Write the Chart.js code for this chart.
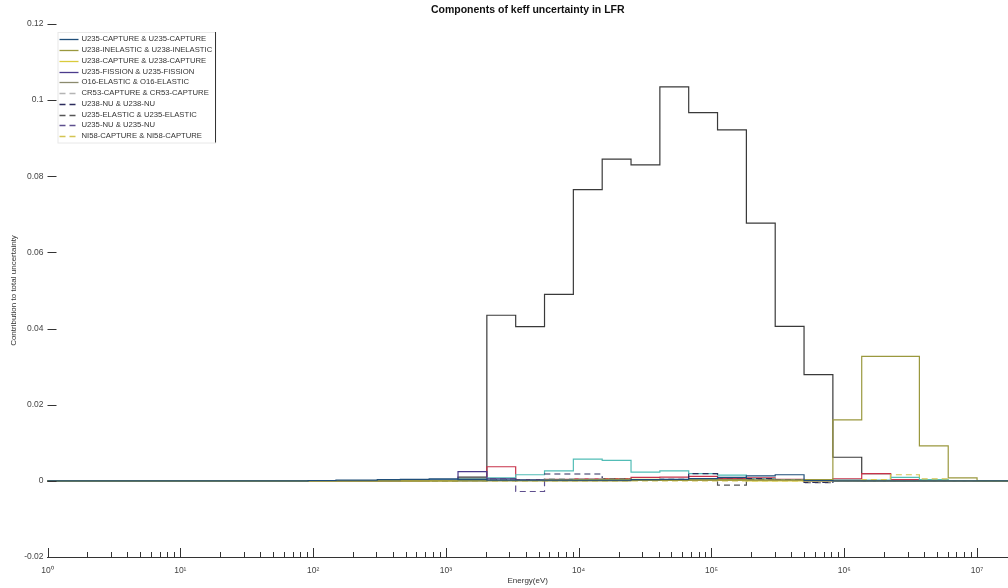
<!DOCTYPE html>
<html>
<head>
<meta charset="utf-8">
<script src="https://cdn.jsdelivr.net/npm/chart.js@4.4.1/dist/chart.umd.min.js"></script>
<style>
  html, body { margin: 0; padding: 0; background: #fff; }
  #wrap { width: 1008px; height: 588px; }
</style>
</head>
<body>
<div id="wrap"><canvas id="keff"></canvas></div>
<script>
// 33-group energy boundaries (eV), ascending
const energyEdges = [1e-5, 0.1, 0.54, 4.0, 8.3153, 13.710, 22.603, 40.169, 67.904, 91.661, 148.62,
  304.33, 454.0, 748.52, 1234.1, 2034.7, 3354.6, 5530.8, 9118.8, 15034, 24788, 40868,
  67379, 111090, 183160, 301970, 497870, 820850, 1353400, 2231300, 3678800, 6065300, 1.0e7, 1.964e7];

// contribution per group (one value per group, low -> high energy)
const mainVals = [0, 0, 0, 0, 0, 0, 0, 0, 0, 0, 0,
  0, 0, 0.0002, 0.0010, 0.0435, 0.0405, 0.0490, 0.0765, 0.0845, 0.0830, 0.1035,
  0.0967, 0.0922, 0.0677, 0.0406, 0.0279, 0.0062, 0.0019, 0.0002, 0, 0, 0];
const inelVals = [0, 0, 0, 0, 0, 0, 0, 0, 0, 0, 0,
  0, 0, 0, 0, 0, 0, 0, 0, 0, 0.0001, 0.0001,
  0.0002, 0.0002, 0.0002, 0.0002, 0.0003, 0.0160, 0.0327, 0.0327, 0.0092, 0.0008, 0];
const redVals = [0, 0, 0, 0, 0, 0, 0, 0, 0, 0, 0,
  0, 0, 0.0001, 0.0006, 0.0037, 0.0003, 0.0004, 0.0005, 0.0006, 0.0009, 0.0010,
  0.0012, 0.0006, 0.0008, 0.0004, 0.0002, 0.0005, 0.0019, 0.0003, 0.0001, 0, 0];
const cyanVals = [0, 0, 0, 0, 0, 0, 0, 0, 0, 0, 0.0001,
  0.0001, 0.0002, 0.0003, 0.0005, 0.0008, 0.0016, 0.0026, 0.0057, 0.0054, 0.0023, 0.0026,
  0.0019, 0.0015, 0.0005, 0.0003, 0.0002, 0.0002, 0.0002, 0.0009, 0.0003, 0.0001, 0];
const u235CapVals = [0, 0, 0, 0, 0, 0, 0, 0, 0, 0.0001, 0.0002,
  0.0003, 0.0004, 0.0005, 0.0003, 0.0002, 0.0002, 0.0002, 0.0002, 0.0002, 0.0003, 0.0004,
  0.0006, 0.0009, 0.0013, 0.0016, 0.0001, 0, 0, 0, 0, 0, 0];
const u238CapVals = [0, 0, 0, 0, 0, 0, 0, 0, 0, 0, 0,
  0, 0, 0, 0.0001, 0.0001, 0.0001, 0.0002, 0.0003, 0.0004, 0.0004, 0.0003,
  0.0002, 0.0001, 0, 0, 0, 0, 0, 0, 0, 0, 0];
const u235FisVals = [0, 0, 0, 0, 0, 0, 0, 0, 0, 0, 0,
  0, 0.0001, 0.0002, 0.0024, 0.0005, 0.0002, 0.0001, 0.0001, 0.0001, 0.0001, 0.0001,
  0.0001, 0.0001, 0.0001, 0.0001, 0, 0, 0, 0, 0, 0, 0];
const o16Vals = [0, 0, 0, 0, 0, 0, 0, 0, 0, 0, 0,
  0, 0, 0, 0, 0.0001, 0.0001, 0.0002, 0.0002, 0.0002, 0.0002, 0.0003,
  0.0003, 0.0003, 0.0002, 0.0002, 0.0001, 0.0001, 0.0001, 0, 0, 0, 0];
const cr53Vals = [0, 0, 0, 0, 0, 0, 0, 0, 0, 0, 0,
  0, 0, 0, 0.0002, 0.0004, 0.0003, 0.0006, 0.0005, 0.0004, 0.0003, 0.0003,
  0.0002, 0.0002, 0.0001, 0.0001, 0, 0, 0, 0, 0, 0, 0];
const u238NuVals = [0, 0, 0, 0, 0, 0, 0, 0, 0, 0, 0,
  0, 0, 0, 0.0001, 0.0003, 0.0002, 0.0018, 0.0018, 0.0005, 0.0003, 0.0004,
  0.0019, 0.0004, 0.0006, 0.0003, -0.0004, 0.0001, 0, 0, 0, 0, 0];
const u235ElVals = [0, 0, 0, 0, 0, 0, 0, 0, 0, 0, 0,
  0, 0, 0, 0.0001, 0.0005, 0.0002, 0.0002, 0.0002, 0.0002, 0.0002, 0.0002,
  0.0002, -0.0011, 0.0004, 0.0002, -0.0005, 0, 0, 0, 0, 0, 0];
const u235NuVals = [0, 0, 0, 0, 0, 0, 0, 0, 0, 0, 0,
  0, 0, 0, 0.0001, 0.0002, -0.0028, 0.0003, 0.0003, 0.0002, 0.0002, 0.0002,
  0.0002, 0.0002, 0.0002, 0.0001, 0, 0, 0, 0, 0, 0, 0];
const ni58Vals = [0, 0, 0, 0, 0, 0, 0, 0, 0, 0, 0,
  0, 0, 0, 0, 0, 0, 0, 0, 0, 0, 0,
  0, 0, 0, 0, 0, 0.0001, 0.0003, 0.0016, 0.0005, 0.0001, 0];

const yTicks = [-0.02, 0, 0.02, 0.04, 0.06, 0.08, 0.1, 0.12];
const xDecades = [1, 10, 100, 1e3, 1e4, 1e5, 1e6, 1e7];
const xTickLabels = ['10\u2070', '10\u00b9', '10\u00b2', '10\u00b3', '10\u2074', '10\u2075', '10\u2076', '10\u2077'];

function steps(vals) {
  const pts = vals.map((v, i) => ({ x: energyEdges[i], y: v }));
  pts.push({ x: energyEdges[energyEdges.length - 1], y: vals[vals.length - 1] });
  return pts;
}

function series(label, vals, color, dashed, inLegend) {
  return {
    label: label,
    data: steps(vals),
    borderColor: color,
    backgroundColor: color,
    borderWidth: 1.2,
    borderDash: dashed ? [6, 4] : [],
    stepped: true,
    pointRadius: 0,
    fill: false,
    inLegend: inLegend
  };
}

const datasets = [
  series('U235-CAPTURE & U235-CAPTURE', u235CapVals, '#1f4e79', false, true),
  series('U238-INELASTIC & U238-INELASTIC', inelVals, '#9a983e', false, true),
  series('U238-CAPTURE & U238-CAPTURE', u238CapVals, '#d9cb3c', false, true),
  series('U235-FISSION & U235-FISSION', u235FisVals, '#4b3b8c', false, true),
  series('O16-ELASTIC & O16-ELASTIC', o16Vals, '#8b8a6e', false, true),
  series('CR53-CAPTURE & CR53-CAPTURE', cr53Vals, '#b4b4b4', true, true),
  series('U238-NU & U238-NU', u238NuVals, '#2b2b5c', true, true),
  series('U235-ELASTIC & U235-ELASTIC', u235ElVals, '#555555', true, true),
  series('U235-NU & U235-NU', u235NuVals, '#5e4f8e', true, true),
  series('NI58-CAPTURE & NI58-CAPTURE', ni58Vals, '#d4c452', true, true),
  series('series 11', cyanVals, '#52bdb6', false, false),
  series('series 12', redVals, '#c8324a', false, false),
  series('series 13', mainVals, '#3a3a3a', false, false)
];

// MATLAB-like ticks drawn inward
const inwardTicks = {
  id: 'inwardTicks',
  afterDatasetsDraw(chart) {
    const { ctx, chartArea, scales } = chart;
    ctx.save();
    ctx.strokeStyle = '#333';
    ctx.lineWidth = 1;
    ctx.beginPath();
    scales.x.ticks.forEach(t => {
      const px = Math.round(scales.x.getPixelForValue(t.value)) + 0.5;
      const len = t.major ? 9 : 5;
      ctx.moveTo(px, chartArea.bottom);
      ctx.lineTo(px, chartArea.bottom - len);
    });
    scales.y.ticks.forEach(t => {
      const py = Math.round(scales.y.getPixelForValue(t.value)) + 0.5;
      ctx.moveTo(chartArea.left, py);
      ctx.lineTo(chartArea.left + 9, py);
    });
    ctx.stroke();
    ctx.restore();
  }
};

// legend box inside the axes, upper left
const boxLegend = {
  id: 'boxLegend',
  afterDraw(chart) {
    const { ctx, chartArea } = chart;
    const items = chart.data.datasets.filter(d => d.inLegend);
    ctx.save();
    ctx.font = '7.7px "Liberation Sans", Arial, sans-serif';
    let tw = 0;
    items.forEach(d => { tw = Math.max(tw, ctx.measureText(d.label).width); });
    const x0 = chartArea.left + 10;
    const y0 = chartArea.top + 8;
    const rowH = 10.75;
    const w = 24 + tw + 3;
    const h = items.length * rowH + 3;
    ctx.fillStyle = '#fff';
    ctx.fillRect(x0, y0, w, h);
    ctx.strokeStyle = '#e8e8e8';
    ctx.lineWidth = 1;
    ctx.strokeRect(x0 + 0.5, y0 + 0.5, w, h);
    ctx.strokeStyle = '#333';
    ctx.beginPath();
    ctx.moveTo(Math.round(x0 + w) + 0.5, y0);
    ctx.lineTo(Math.round(x0 + w) + 0.5, y0 + h);
    ctx.stroke();
    items.forEach((d, i) => {
      const cy = y0 + 7.3 + i * rowH;
      ctx.strokeStyle = d.borderColor;
      ctx.lineWidth = 1.3;
      ctx.setLineDash(d.borderDash);
      ctx.beginPath();
      ctx.moveTo(x0 + 2, Math.round(cy) + 0.5);
      ctx.lineTo(x0 + 21, Math.round(cy) + 0.5);
      ctx.stroke();
      ctx.setLineDash([]);
      ctx.fillStyle = '#333';
      ctx.textBaseline = 'middle';
      ctx.fillText(d.label, x0 + 24, cy);
    });
    ctx.restore();
  }
};

new Chart(document.getElementById('keff').getContext('2d'), {
  type: 'line',
  data: { datasets: datasets },
  options: {
    responsive: true,
    maintainAspectRatio: false,
    animation: false,
    layout: { padding: 0 },
    plugins: {
      legend: { display: false },
      tooltip: { enabled: false },
      title: {
        display: true,
        fullSize: false,
        text: 'Components of keff uncertainty in LFR',
        color: '#111',
        font: { family: '"Liberation Sans", Arial, sans-serif', size: 10.5, weight: 'bold' },
        padding: { top: 4, bottom: 7.4 }
      }
    },
    scales: {
      x: {
        type: 'logarithmic',
        min: 1,
        max: 1.71e7,
        grid: { display: false },
        border: { display: true, color: '#333', width: 1 },
        afterBuildTicks(scale) {
          const t = [];
          xDecades.forEach(d => {
            for (let m = 1; m <= 9; m++) {
              const v = d * m;
              if (v <= scale.max) t.push({ value: v, major: m === 1 });
            }
          });
          scale.ticks = t;
        },
        afterFit(scale) { scale.height = 31; },
        ticks: {
          autoSkip: false,
          maxRotation: 0,
          padding: 1,
          color: '#444',
          font: { family: '"Liberation Sans", Arial, sans-serif', size: 8.5 },
          callback(value) {
            const i = xDecades.indexOf(value);
            return i >= 0 ? xTickLabels[i] : '';
          }
        },
        title: {
          display: true,
          text: 'Energy(eV)',
          color: '#333',
          font: { family: '"Liberation Sans", Arial, sans-serif', size: 8 },
          padding: { top: 0, bottom: 2.5 }
        }
      },
      y: {
        min: -0.02,
        max: 0.12,
        grid: { display: false, drawTicks: false },
        border: { display: false },
        afterBuildTicks(scale) {
          scale.ticks = yTicks.map(v => ({ value: v }));
        },
        afterFit(scale) { scale.width = 47.5; },
        ticks: {
          padding: 4,
          color: '#444',
          font: { family: '"Liberation Sans", Arial, sans-serif', size: 8.5 },
          callback(value) { return String(Math.round(value * 100) / 100); }
        },
        title: {
          display: true,
          text: 'Contribution to total uncertainty',
          color: '#333',
          font: { family: '"Liberation Sans", Arial, sans-serif', size: 8 },
          padding: { top: 9, bottom: 0 }
        }
      }
    }
  },
  plugins: [inwardTicks, boxLegend]
});
</script>
</body>
</html>
